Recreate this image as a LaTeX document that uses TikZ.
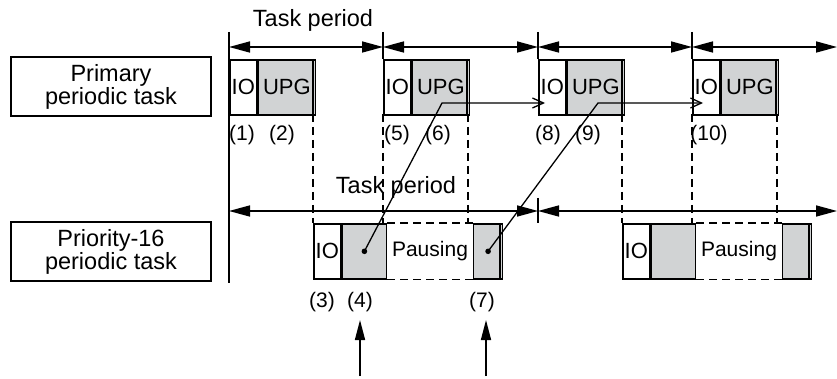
\documentclass[tikz,border=0pt]{standalone}
\usepackage{fontspec}
\setmainfont{Liberation Sans}
\usepackage{tikz}
\usetikzlibrary{positioning,arrows.meta,calc}
\definecolor{shade}{RGB}{209,211,212}
\tikzset{
  txt/.style={font=\fontsize{22}{21}\selectfont, inner sep=0pt},
  big/.style={font=\fontsize{23.5}{21}\selectfont, inner sep=0pt},
  lbl/.style={draw, line width=1.2pt, minimum width=200pt, minimum height=59pt, align=center, big},
  io/.style={draw, minimum width=27pt, minimum height=55pt, anchor=north west, txt},
  upg/.style={draw, fill=shade, minimum width=57pt, minimum height=55pt, txt},
  num/.style={font=\fontsize{21}{21}\selectfont, inner sep=0pt},
  per/.style={{Triangle[length=21pt,width=11pt]}-{Triangle[length=21pt,width=11pt]}, line width=1.6pt},
  dsh/.style={dash pattern=on 8pt off 5pt, line width=1.6pt},
  con/.style={-{Straight Barb[length=11pt,width=10pt]}, line width=1.3pt},
  up/.style={-{Triangle[length=20pt,width=10pt]}, line width=1.6pt},
}
\begin{document}
\begin{tikzpicture}[x=1pt, y=-1pt, line width=1.6pt]
\useasboundingbox (0,0) rectangle (837,379);
% task labels
\node[lbl] (prim) at (111,86.5) {Primary\\periodic task};
\node[lbl] (prio) at (111,251.5) {Priority-16\\periodic task};
% period boundaries
\draw (229,32) -- (229,283);
\foreach \x in {383,538,692} \draw (\x,32) -- (\x,59);
\draw[per] (229,47) -- (383,47);
\draw[per] (383,47) -- (538,47);
\draw[per] (538,47) -- (692,47);
\draw[per] (692,47) -- (837,47);
\node[big] (tp1) at (313,20) {Task period};
% primary periodic task
\foreach \s/\k in {229/a,383/b,538/c,692/d} {
  \node[io] (io\k) at (\s,59) {IO};
  \node[upg, right=0pt of io\k] (upg\k) {UPG};
  \draw ([xshift=-3.5pt]upg\k.north east) -- ([xshift=-3.5pt]upg\k.south east);
}
\foreach \x in {313,383,468,622,692,777} \draw[dsh] (\x,114) -- (\x,223);
% priority-16 periodic task
\node[big] (tp2) at (396,187) {Task period};
\draw[per] (229,211) -- (538,211);
\draw[per] (538,211) -- (837,211);
\draw (538,198) -- (538,223);
\foreach \s/\k in {313/a,622/b} {
  \node[io] (pio\k) at (\s,223) {IO};
  \node[upg, minimum width=44pt, right=0pt of pio\k] (pg\k) {};
  \node[txt, font=\fontsize{21}{21}\selectfont, minimum width=84pt, minimum height=55pt, right=0pt of pg\k] (pa\k) {Pausing};
  \draw[dsh] (pa\k.north west) -- (pa\k.north east);
  \draw[dsh] (pa\k.south west) -- (pa\k.south east);
  \node[upg, minimum width=29pt, right=0pt of pa\k] (pe\k) {};
  \draw ([xshift=-3.5pt]pe\k.north east) -- ([xshift=-3.5pt]pe\k.south east);
}
% refresh connectors
\coordinate (k1) at (442,103);
\coordinate (e1) at (545,103);
\coordinate (k2) at (598,103);
\coordinate (e2) at (703,103);
\fill (pga.center) circle (2.8pt);
\fill (pea.center) circle (2.8pt);
\draw[con] (pga.center) -- (k1) -- (e1);
\draw[con] (pea.center) -- (k2) -- (e2);
% step numbers
\foreach \x/\n in {242/1,282/2,397/5,438/6,548/8,588/9,709/10}
  \node[num] (n\n) at (\x,135) {(\n)};
\foreach \x/\n in {322/3,360/4,482/7}
  \node[num] (n\n) at (\x,302) {(\n)};
\coordinate (b4) at (360,376);
\coordinate (b7) at (486,376);
\draw[up] (b4) -- (b4 |- 0,320);
\draw[up] (b7) -- (b7 |- 0,320);
\end{tikzpicture}
\end{document}
